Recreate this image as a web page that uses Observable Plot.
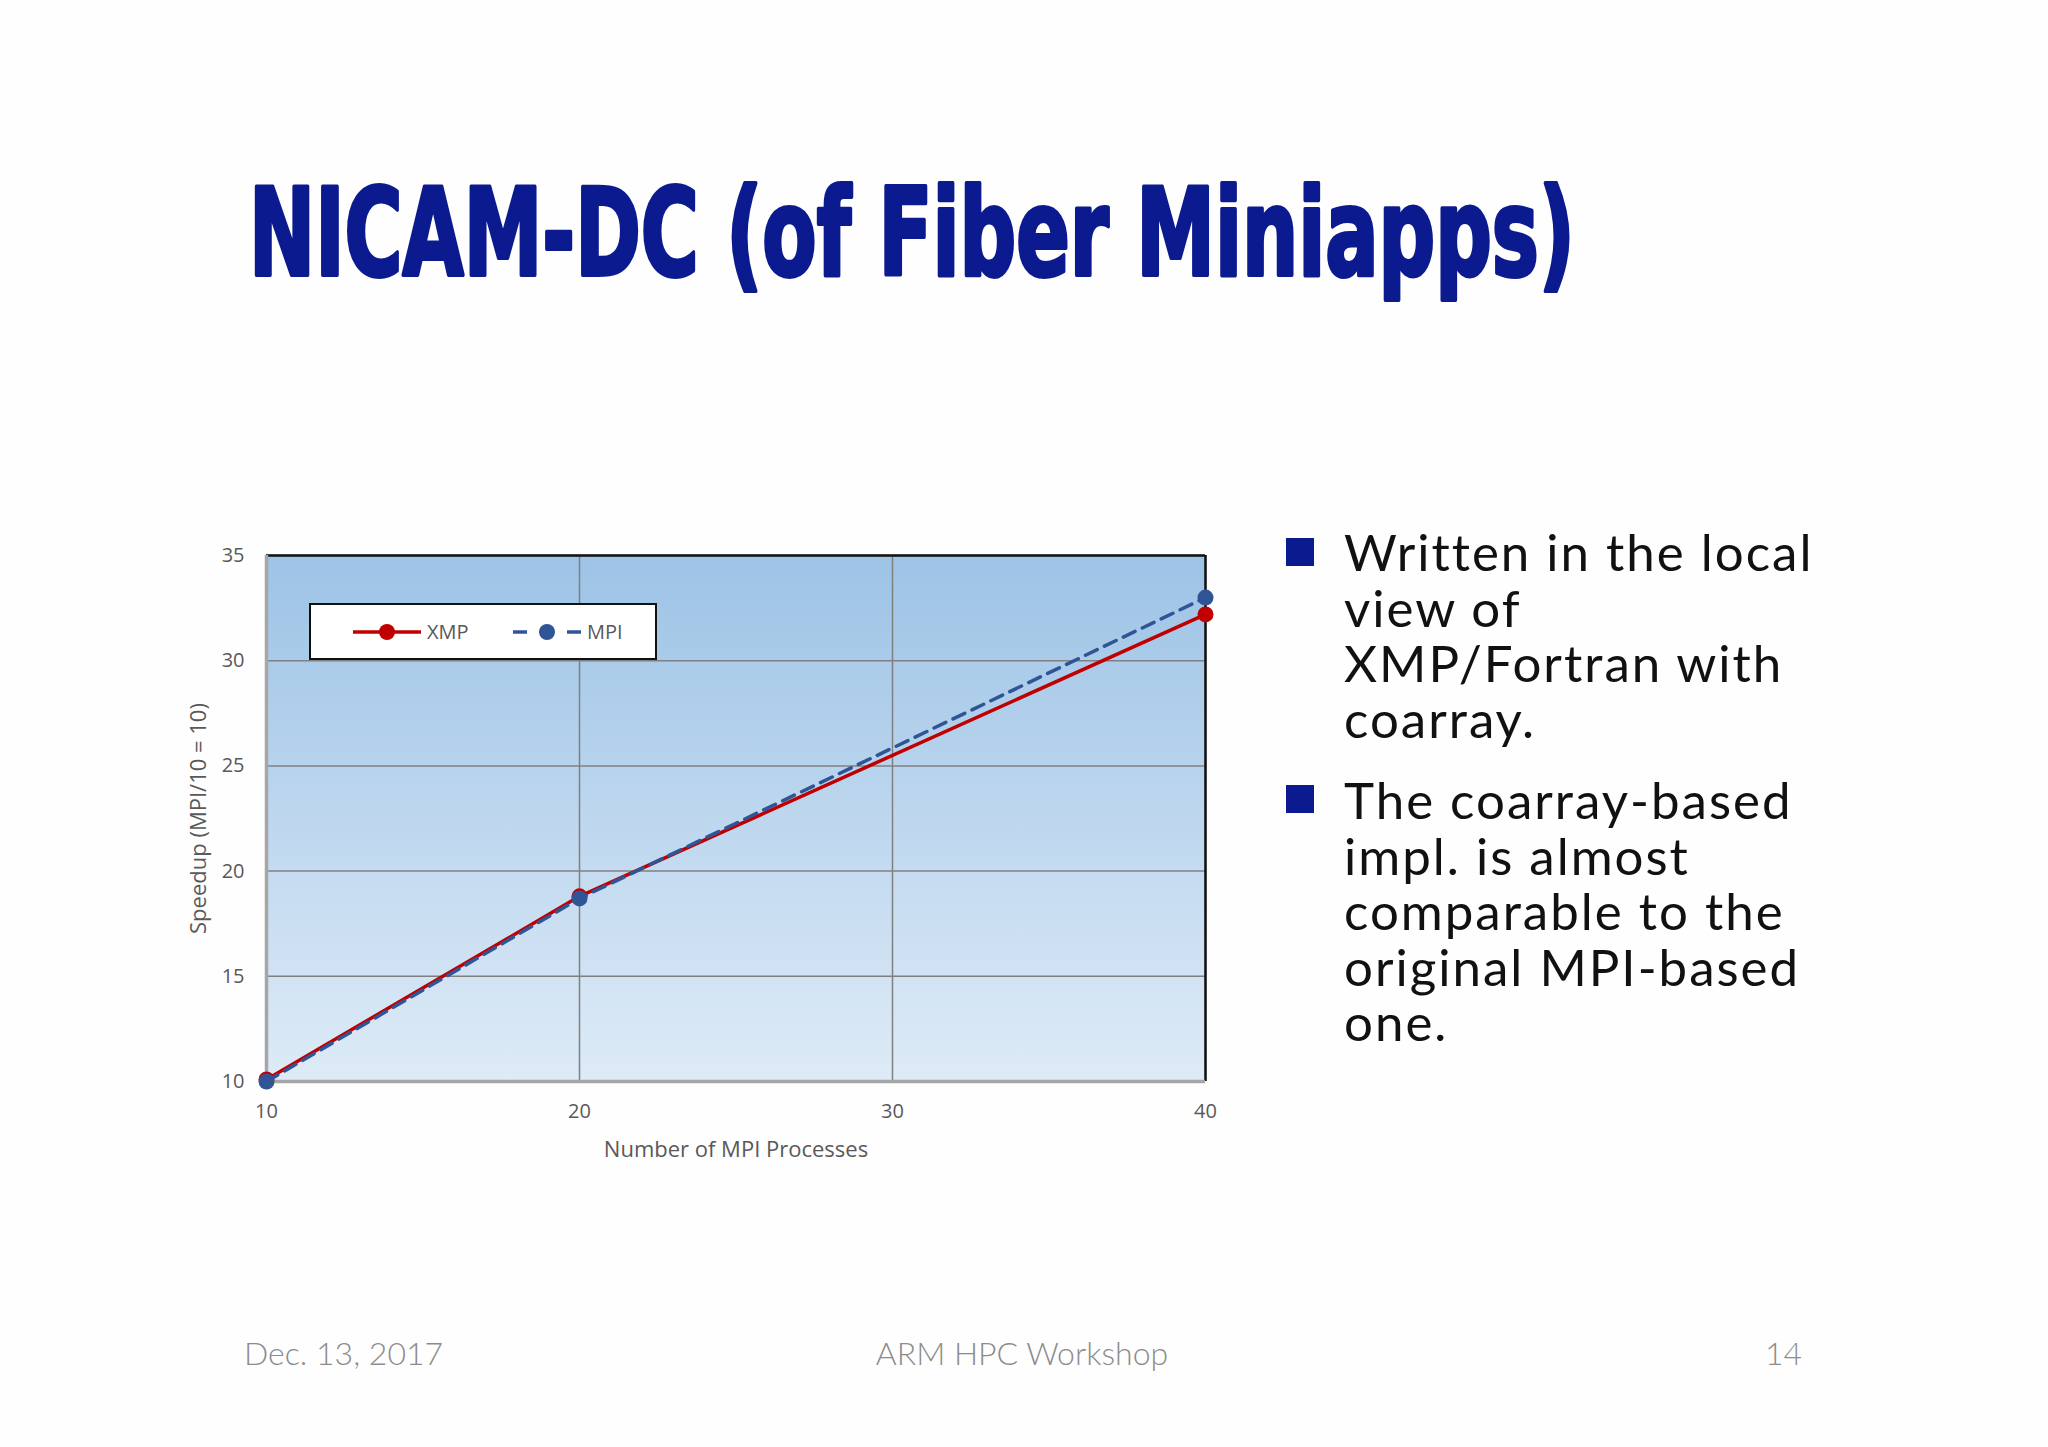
<!DOCTYPE html>
<html>
<head>
<meta charset="utf-8">
<script src="https://cdn.jsdelivr.net/npm/d3@7"></script>
<script src="https://cdn.jsdelivr.net/npm/@observablehq/plot@0.6"></script>
<style>
  html, body { margin: 0; padding: 0; background: #ffffff; }
  #slide { position: relative; width: 2048px; height: 1447px; overflow: hidden; background: #fefefe; }
  #chart { position: absolute; left: 150px; top: 520px; }
  #overlay { position: absolute; left: 0; top: 0; }
  #legend { position: absolute; left: 309px; top: 603px; width: 344px; height: 53px;
            background: #ffffff; border: 2px solid #111; }
</style>
</head>
<body>
<div id="slide">
  <div id="chart"></div>
  <div id="legend"></div>
  <svg id="overlay" width="2048" height="1447"></svg>
</div>
<script>
// ---- data ----
const processes = [10, 20, 40];
const xmpSpeedup = [10.1, 18.8, 32.2];
const mpiSpeedup = [10.0, 18.7, 33.0];
const seriesNames = ["XMP", "MPI"];
const xTicks = [10, 20, 30, 40];
const yTicks = [10, 15, 20, 25, 30, 35];
const titleText = "NICAM-DC (of Fiber Miniapps)";
const bullet1 = ["Written in the local", "view of", "XMP/Fortran with", "coarray."];
const bullet2 = ["The coarray-based", "impl. is almost", "comparable to the", "original MPI-based", "one."];
const footer = ["Dec. 13, 2017", "ARM HPC Workshop", "14"];
const xLabel = "Number of MPI Processes";
const yLabel = "Speedup (MPI/10 = 10)";

const xmpRows = processes.map((p, i) => ({x: p, y: xmpSpeedup[i]}));
const mpiRows = processes.map((p, i) => ({x: p, y: mpiSpeedup[i]}));

const RED = "#c00000";
const BLUE = "#2f5597";
const NAVY = "#0b1a8e";

const svg = Plot.plot({
  width: 1100,
  height: 680,
  marginLeft: 116,
  marginTop: 35,
  marginRight: 45,
  marginBottom: 119,
  style: {background: "transparent", fontFamily: "Open Sans", fontSize: "20px", color: "#595959"},
  x: {type: "linear", domain: [10, 40], ticks: xTicks, tickSize: 0, tickPadding: 22, label: null, tickFormat: d => String(d)},
  y: {type: "linear", domain: [10, 35], ticks: yTicks, tickSize: 0, tickPadding: 22, label: null, tickFormat: d => String(d)},
  marks: [
    Plot.frame({fill: "url(#bgGrad)", stroke: "none"}),
    Plot.ruleX(xTicks, {stroke: "#808080", strokeWidth: 1.5}),
    Plot.ruleY(yTicks, {stroke: "#808080", strokeWidth: 1.5}),
    Plot.ruleY([35], {stroke: "#111", strokeWidth: 2.5}),
    Plot.ruleX([40], {stroke: "#111", strokeWidth: 2.5}),
    Plot.ruleX([10], {stroke: "#a6a6a6", strokeWidth: 3.5}),
    Plot.ruleY([10], {stroke: "#a6a6a6", strokeWidth: 3.5}),
    Plot.line(xmpRows, {x: "x", y: "y", stroke: RED, strokeWidth: 3.5}),
    Plot.dot(xmpRows, {x: "x", y: "y", r: 8, fill: RED}),
    Plot.line(mpiRows, {x: "x", y: "y", stroke: BLUE, strokeWidth: 3.5, strokeDasharray: "13,8"}),
    Plot.dot(mpiRows, {x: "x", y: "y", r: 8, fill: BLUE}),
    Plot.text([xLabel], {frameAnchor: "bottom", dy: 68, fill: "#595959", fontSize: 22, textAnchor: "middle", lineAnchor: "middle"}),
    Plot.text([yLabel], {frameAnchor: "left", dx: -68, rotate: -90, fill: "#595959", fontSize: 22, textAnchor: "middle", lineAnchor: "middle"})
  ]
});

const defs = d3.select(svg).insert("defs", ":first-child");
const grad = defs.append("linearGradient").attr("id", "bgGrad")
  .attr("x1", 0).attr("y1", 0).attr("x2", 0).attr("y2", 1);
grad.append("stop").attr("offset", "0%").attr("stop-color", "#9dc3e6");
grad.append("stop").attr("offset", "100%").attr("stop-color", "#deebf7");
document.getElementById("chart").appendChild(svg);

// ---- legend ----
const leg = d3.select("#legend").append("svg").attr("width", 344).attr("height", 53)
  .style("font-family", "Open Sans").style("font-size", "20px");
const lx = 311, ly = 605;
leg.append("line").attr("x1", 353 - lx).attr("x2", 421 - lx).attr("y1", 632 - ly).attr("y2", 632 - ly)
  .attr("stroke", RED).attr("stroke-width", 3.5);
leg.append("circle").attr("cx", 387 - lx).attr("cy", 632 - ly).attr("r", 8).attr("fill", RED);
leg.append("text").attr("x", 427 - lx).attr("y", 632 - ly).attr("dy", "0.35em").attr("fill", "#595959").text(seriesNames[0]);
leg.append("line").attr("x1", 513 - lx).attr("x2", 527 - lx).attr("y1", 632 - ly).attr("y2", 632 - ly)
  .attr("stroke", BLUE).attr("stroke-width", 3.5);
leg.append("line").attr("x1", 567 - lx).attr("x2", 581 - lx).attr("y1", 632 - ly).attr("y2", 632 - ly)
  .attr("stroke", BLUE).attr("stroke-width", 3.5);
leg.append("circle").attr("cx", 547 - lx).attr("cy", 632 - ly).attr("r", 8).attr("fill", BLUE);
leg.append("text").attr("x", 587 - lx).attr("y", 632 - ly).attr("dy", "0.35em").attr("fill", "#595959").text(seriesNames[1]);

// ---- overlay text ----
const ov = d3.select("#overlay");
const titleG = ov.append("g");
const title = titleG.append("text").attr("x", 0).attr("y", 0)
  .attr("font-family", "DejaVu Sans Condensed, DejaVu Sans").attr("font-weight", "bold").attr("font-size", 122)
  .attr("fill", NAVY).attr("stroke", NAVY).attr("stroke-width", 4).attr("stroke-linejoin", "round")
  .text(titleText);
const tw = title.node().getComputedTextLength();
titleG.attr("transform", `translate(249,275) scale(${1326 / tw},1)`);

function addBullet(lines, firstBaseline, squareTop) {
  ov.append("rect").attr("x", 1286).attr("y", squareTop).attr("width", 28).attr("height", 28).attr("fill", NAVY);
  lines.forEach((t, i) => {
    ov.append("text").attr("class", "bl").attr("x", 1344).attr("y", firstBaseline + i * 55.5)
      .attr("font-family", "Lato").attr("font-size", 51).attr("fill", "#111")
      .style("letter-spacing", "2px").text(t);
  });
}
addBullet(bullet1, 571, 538);
addBullet(bullet2, 819, 785);

const fstyle = t => t.attr("font-family", "Lato").attr("font-weight", 300).attr("font-size", 32).attr("fill", "#8c8c8c");
fstyle(ov.append("text").attr("x", 244).attr("y", 1365).text(footer[0]));
fstyle(ov.append("text").attr("x", 1022).attr("y", 1365).attr("text-anchor", "middle").text(footer[1]));
fstyle(ov.append("text").attr("x", 1802).attr("y", 1365).attr("text-anchor", "end").text(footer[2]));
</script>
</body>
</html>
